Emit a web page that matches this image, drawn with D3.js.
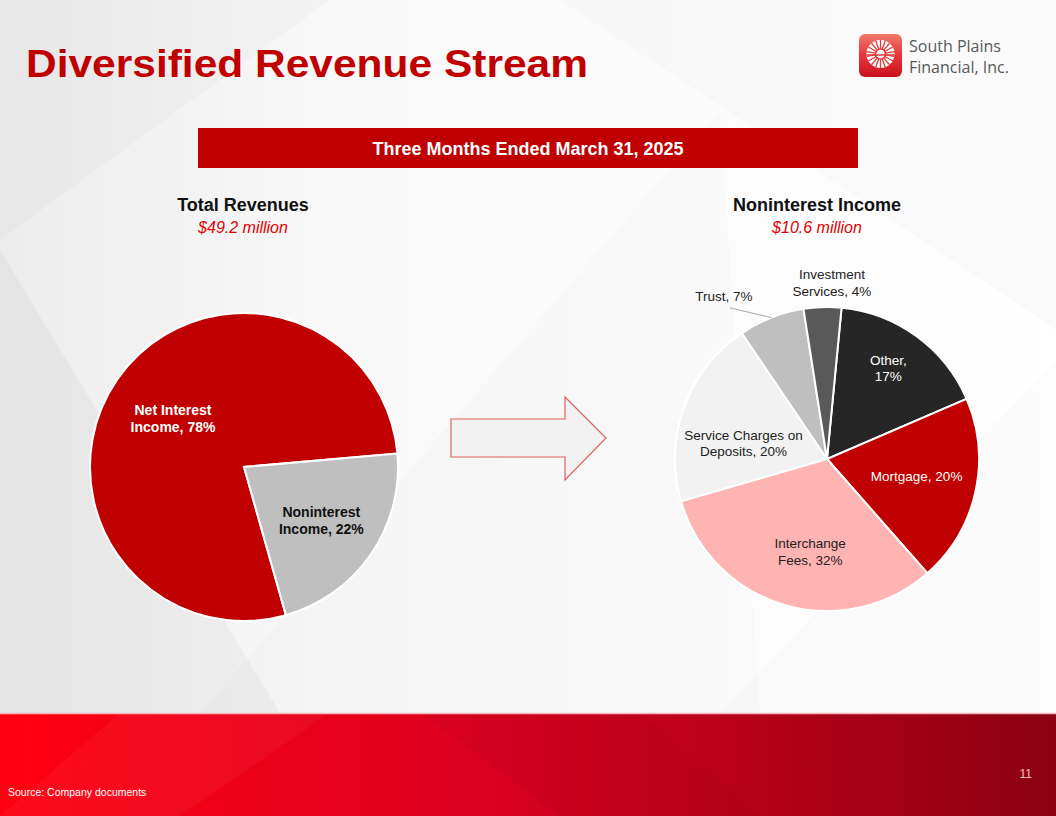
<!DOCTYPE html>
<html>
<head>
<meta charset="utf-8">
<script src="https://cdn.jsdelivr.net/npm/d3@7"></script>
<style>
  body { margin: 0; background: #fff; }
  svg { display: block; font-family: "Liberation Sans", Arial, sans-serif; }
</style>
</head>
<body>
<div id="slide"></div>
<script>
// data
var revCats = ["Net Interest Income", "Noninterest Income"]
var revVals = [78, 22]
var nonCats = ["Other", "Mortgage", "Interchange Fees", "Service Charges on Deposits", "Trust", "Investment Services"]
var nonVals = [17, 20, 32, 20, 7, 4]
var revLabels = [["Net Interest", "Income, 78%"], ["Noninterest", "Income, 22%"]]
var nonLabels = [["Other,", "17%"], ["Mortgage, 20%"], ["Interchange", "Fees, 32%"],
                 ["Service Charges on", "Deposits, 20%"], ["Trust, 7%"], ["Investment", "Services, 4%"]]

var W = 1056, H = 816
var red = "#c00000"

var svg = d3.select("#slide").append("svg")
    .attr("width", W).attr("height", H)

var defs = svg.append("defs")
var bg = defs.append("linearGradient").attr("id", "bg").attr("x1", 0).attr("x2", 1).attr("y1", 0).attr("y2", 0)
bg.append("stop").attr("offset", 0).attr("stop-color", "#ececec")
bg.append("stop").attr("offset", 0.3).attr("stop-color", "#f8f8f8")
bg.append("stop").attr("offset", 1).attr("stop-color", "#ffffff")

var band = defs.append("linearGradient").attr("id", "band").attr("x1", 0).attr("x2", 1)
band.append("stop").attr("offset", 0).attr("stop-color", "#ff0010")
band.append("stop").attr("offset", 0.45).attr("stop-color", "#dc0020")
band.append("stop").attr("offset", 1).attr("stop-color", "#8c0012")

var logoG = defs.append("linearGradient").attr("id", "logo").attr("x1", 0).attr("x2", 0).attr("y1", 0).attr("y2", 1)
logoG.append("stop").attr("offset", 0).attr("stop-color", "#f07a6a")
logoG.append("stop").attr("offset", 0.5).attr("stop-color", "#e8363a")
logoG.append("stop").attr("offset", 1).attr("stop-color", "#c8101e")

// background
svg.append("rect").attr("width", W).attr("height", H).attr("fill", "url(#bg)")

var facets = [
    [[0, 240], [330, 0], [0, 0]],
    [[0, 250], [280, 713], [0, 713]],
    [[200, 713], [720, 110], [760, 713]],
    [[560, 0], [1056, 0], [1056, 330]],
    [[720, 713], [1056, 360], [1056, 713]]
]
var facetOp = [0.02, 0.03, 0.012, 0.015, 0.012]
svg.selectAll("path.facet").data(facets).enter().append("path")
    .attr("class", "facet")
    .attr("d", function(d) { return "M" + d.join("L") + "Z" })
    .attr("fill", "#000")
    .attr("fill-opacity", function(d, i) { return facetOp[i] })

// bottom band
svg.append("rect").attr("x", 0).attr("y", 713).attr("width", W).attr("height", H - 713)
    .attr("fill", "url(#band)")
svg.append("path").attr("d", "M0,816L120,713L330,713L180,816Z").attr("fill", "#fff").attr("fill-opacity", 0.04)
svg.append("path").attr("d", "M420,713L560,816L760,816L640,713Z").attr("fill", "#000").attr("fill-opacity", 0.03)
svg.append("line").attr("x1", 0).attr("x2", W).attr("y1", 713.5).attr("y2", 713.5)
    .attr("stroke", "#f4b8bc").attr("stroke-width", 1.5)

svg.append("text").attr("x", 8).attr("y", 796).attr("fill", "#fff")
    .attr("font-size", 10.5).text("Source: Company documents")
svg.append("text").attr("x", 1032).attr("y", 778).attr("fill", "#f0c0c0")
    .attr("font-size", 12).attr("text-anchor", "end").text("11")

// title
svg.append("text").attr("x", 26).attr("y", 77)
    .attr("fill", red).attr("font-weight", "bold").attr("font-size", 39)
    .attr("textLength", 562).attr("lengthAdjust", "spacingAndGlyphs")
    .text("Diversified Revenue Stream")

// logo
var lg = svg.append("g").attr("transform", "translate(859,34)")
lg.append("rect").attr("width", 43).attr("height", 43).attr("rx", 6).attr("fill", "url(#logo)")
var wheel = lg.append("g").attr("transform", "translate(21.5,20)")
wheel.append("circle").attr("r", 14).attr("fill", "#fff")
wheel.selectAll("line.sp").data(d3.range(18)).enter().append("line")
    .attr("x1", function(i) { return 5 * Math.sin(i * Math.PI / 9) })
    .attr("y1", function(i) { return -5 * Math.cos(i * Math.PI / 9) })
    .attr("x2", function(i) { return 14 * Math.sin(i * Math.PI / 9) })
    .attr("y2", function(i) { return -14 * Math.cos(i * Math.PI / 9) })
    .attr("stroke", "#e23a3a").attr("stroke-width", 1.3)
wheel.append("circle").attr("r", 5).attr("fill", "none").attr("stroke", "#e23a3a").attr("stroke-width", 1.5)
wheel.append("line").attr("x1", -14).attr("x2", 14).attr("y1", 1).attr("y2", 1)
    .attr("stroke", "#e23a3a").attr("stroke-width", 1.5)
lg.append("text").attr("x", 50).attr("y", 18).attr("fill", "#595959")
    .attr("font-family", "'Open Sans', 'Noto Sans', sans-serif").attr("font-size", 16).text("South Plains")
lg.append("text").attr("x", 50).attr("y", 39).attr("fill", "#595959")
    .attr("font-family", "'Open Sans', 'Noto Sans', sans-serif").attr("font-size", 16).text("Financial, Inc.")

// period banner
svg.append("rect").attr("x", 198).attr("y", 128).attr("width", 660).attr("height", 40).attr("fill", red)
svg.append("text").attr("x", 528).attr("y", 155).attr("text-anchor", "middle")
    .attr("fill", "#fff").attr("font-weight", "bold").attr("font-size", 18)
    .text("Three Months Ended March 31, 2025")

// pie titles
function pieTitle(x, t1, t2) {
    svg.append("text").attr("x", x).attr("y", 211).attr("text-anchor", "middle")
        .attr("font-weight", "bold").attr("font-size", 18).attr("fill", "#111").text(t1)
    svg.append("text").attr("x", x).attr("y", 233).attr("text-anchor", "middle")
        .attr("font-style", "italic").attr("font-size", 16).attr("fill", "#e00000").text(t2)
}
pieTitle(243, "Total Revenues", "$49.2 million")
pieTitle(817, "Noninterest Income", "$10.6 million")

var deg = Math.PI / 180

function drawPie(cx, cy, r, cats, vals, start, colors, labels, labelStyle) {
    var pie = d3.pie().sort(null).startAngle(start * deg).endAngle(start * deg + 2 * Math.PI)
    var arcs = pie(vals)
    var arc = d3.arc().innerRadius(0).outerRadius(r)
    var g = svg.append("g").attr("transform", "translate(" + cx + "," + cy + ")")
    g.selectAll("path.slice").data(arcs).enter().append("path")
        .attr("class", "slice")
        .attr("d", arc)
        .attr("fill", function(d, i) { return colors[i] })
        .attr("stroke", "#fff").attr("stroke-width", 2)
        .append("title").text(function(d, i) { return cats[i] })

    arcs.forEach(function(d, i) {
        var st = labelStyle[i]
        var a = (d.startAngle + d.endAngle) / 2 + (st.da || 0) * deg
        var lx = Math.sin(a) * r * st.k, ly = -Math.cos(a) * r * st.k
        if (st.leader) {
            var m = (d.startAngle + d.endAngle) / 2
            g.append("line")
                .attr("x1", Math.sin(m) * r).attr("y1", -Math.cos(m) * r)
                .attr("x2", lx + 6).attr("y2", ly + 12)
                .attr("stroke", "#a6a6a6").attr("stroke-width", 1)
        }
        var lines = labels[i]
        var t = g.append("text").attr("text-anchor", "middle")
            .attr("font-size", st.size).attr("font-weight", st.bold ? "bold" : "normal")
            .attr("fill", st.color)
        lines.forEach(function(s, j) {
            t.append("tspan").attr("x", lx)
                .attr("y", ly + (j - (lines.length - 1) / 2) * st.size * 1.22 + st.size * 0.36)
                .text(s)
        })
    })
}

drawPie(244, 467, 154, revCats, revVals, 164.2, [red, "#bfbfbf"], revLabels, [
    {k: 0.56, size: 14, bold: true, color: "#fff"},
    {k: 0.61, size: 14, bold: true, color: "#111"}
])

drawPie(827, 459, 152, nonCats, nonVals, 5.5,
    ["#262626", red, "#ffb3b3", "#f2f2f2", "#bfbfbf", "#595959"], nonLabels, [
    {k: 0.72, da: -2, size: 13.5, color: "#fff"},
    {k: 0.6, da: -2, size: 13.5, color: "#fff"},
    {k: 0.62, da: -6, size: 13.5, color: "#222"},
    {k: 0.56, da: -9, size: 13.5, color: "#222"},
    {k: 1.27, da: -10.8, size: 13.5, color: "#222", leader: true},
    {k: 1.16, da: 3.3, size: 13.5, color: "#222"}
])

// arrow
var arrow = [[451, 419], [565, 419], [565, 397], [606, 438], [565, 480], [565, 457], [451, 457]]
svg.append("path").attr("d", "M" + arrow.join("L") + "Z")
    .attr("fill", "#f2f2f2").attr("stroke", "#e06060").attr("stroke-width", 1.2)
</script>
</body>
</html>
